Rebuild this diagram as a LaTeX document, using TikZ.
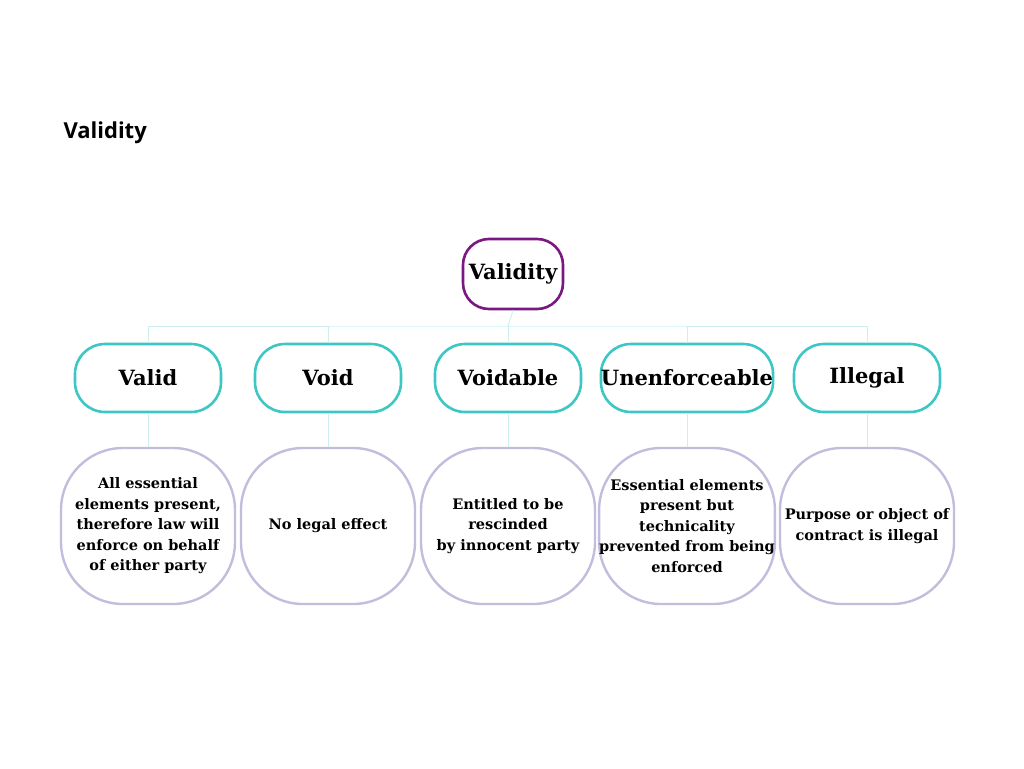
\documentclass[tikz,border=0pt]{standalone}
\usepackage{fontspec}
\setmainfont{DejaVu Serif}
\newfontfamily\titlefont{Open Sans}
\definecolor{purp}{HTML}{7A1780}
\definecolor{teal2}{HTML}{3CC6C4}
\definecolor{lav}{HTML}{C3BDDD}
\definecolor{conn}{HTML}{CDEFEF}
\begin{document}
\begin{tikzpicture}[x=1pt,y=-1pt,
 root/.style={draw=purp,line width=2.6pt,rounded corners=26pt,minimum width=100pt,minimum height=70pt,inner sep=0pt,font=\bfseries\fontsize{21}{24}\selectfont},
 kid/.style={draw=teal2,line width=2.6pt,rounded corners=30pt,minimum width=146pt,minimum height=68pt,inner sep=0pt,font=\bfseries\fontsize{21}{24}\selectfont},
 det/.style={draw=lav,line width=2.4pt,rounded corners=62pt,minimum width=174pt,minimum height=156pt,inner sep=0pt,align=center,font=\bfseries\fontsize{14.5}{20.5}\selectfont},
 con/.style={draw=conn,line width=0.9pt}]
\useasboundingbox (0,0) rectangle (1024,768);
\node[anchor=west,font=\titlefont\bfseries\fontsize{22}{26}\selectfont] (title) at (60,133) {Validity};
\node[root] (r) at (513,274) {Validity};
\foreach \n/\x/\t/\d in {a/148/Valid/{All essential\\elements present,\\therefore law will\\enforce on behalf\\of either party},
 b/328/Void/{No legal effect},
 c/508/Voidable/{Entitled to be\\rescinded\\by innocent party},
 d/687/Unenforceable/{Essential elements\\present but\\technicality\\prevented from being\\enforced},
 e/867/Illegal/{Purpose or object of\\contract is illegal}}{
 \node[kid] (\n) at (\x,378) {\t};
 \node[det] (\n d) at (\x,526) {\d};
 \draw[con] (\n.south) -- (\n d.north);
}
\coordinate (h) at (508,326);
\draw[con] (r.south) -- (h);
\draw[con] (a.north) |- (h) -| (e.north);
\draw[con] (b.north) -- (b.north |- h);
\draw[con] (c.north) -- (h);
\draw[con] (d.north) -- (d.north |- h);
\end{tikzpicture}
\end{document}
